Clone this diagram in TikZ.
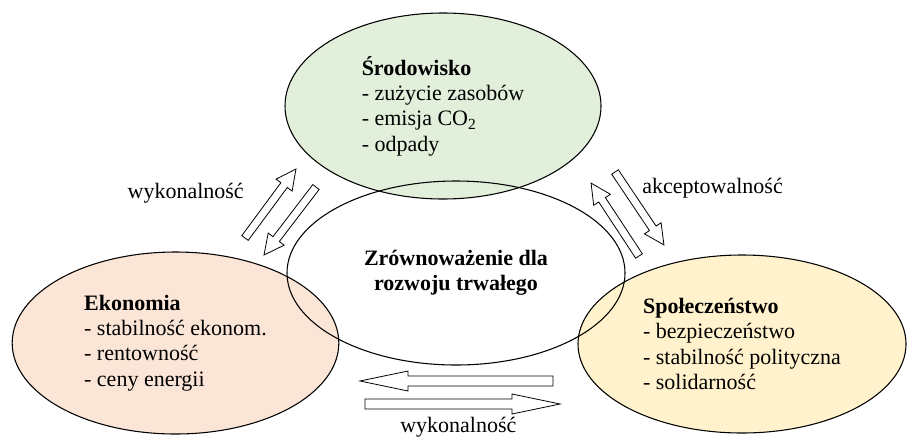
\documentclass[tikz,border=0pt]{standalone}
\usepackage{fontspec}
\setmainfont{Liberation Serif}
\usetikzlibrary{calc,shapes.geometric}

\definecolor{envgreen}{HTML}{E2EFDA}
\definecolor{ecopink}{HTML}{FBE5D6}
\definecolor{socyellow}{HTML}{FFF2CC}

% hollow block arrow: tail, tip, shaft half width, head half width, head length
\newcommand{\hollowarrow}[5]{%
  \draw[arrowline] let \p1=($(#2)-(#1)$), \n1={atan2(\y1,\x1)}, \n2={veclen(\x1,\y1)} in
    [shift={(#1)},rotate=\n1]
    (0pt,-#3) -- ({\n2-#5},-#3) -- ({\n2-#5},-#4) -- (\n2,0pt)
    -- ({\n2-#5},#4) -- ({\n2-#5},#3) -- (0pt,#3) -- cycle;}

\begin{document}
\begin{tikzpicture}[x=0.75pt,y=-0.75pt,
    every node/.style={font=\fontsize{16.5}{19}\selectfont},
    bubble/.style={ellipse,draw,line width=0.8pt,align=left,inner sep=0pt},
    arrowline/.style={line width=0.6pt,line join=miter}]
  \useasboundingbox (0,0) rectangle (909,436);
  % three pillars
  \node[bubble,fill=envgreen,minimum width=237pt,minimum height=139.5pt] (env) at (443,106)
    {\textbf{Środowisko}\\- zużycie zasobów\\- emisja CO\textsubscript{2}\\- odpady};
  \node[bubble,fill=ecopink,minimum width=245pt,minimum height=136.5pt] (eco) at (175.5,343)
    {\textbf{Ekonomia}\\- stabilność ekonom.\\- rentowność\\- ceny energii};
  \node[bubble,fill=socyellow,minimum width=246pt,minimum height=133.5pt] (soc) at (742,344)
    {\textbf{Społeczeństwo}\\- bezpieczeństwo\\- stabilność polityczna\\- solidarność};
  % centre
  \node[bubble,align=center,minimum width=253.5pt,minimum height=138pt] (core) at (456,273)
    {\textbf{Zrównoważenie dla}\\\textbf{rozwoju trwałego}};
  % arrow ends
  \coordinate (ecoup0) at (245,238);   \coordinate (ecoup1) at (296,169);
  \coordinate (ecodn0) at (316,187);   \coordinate (ecodn1) at (264,255);
  \coordinate (socup0) at (639,256);   \coordinate (socup1) at (591,183);
  \coordinate (socdn0) at (615,172);   \coordinate (socdn1) at (664,245);
  \coordinate (botl0) at (553,381);    \coordinate (botl1) at (360,381);
  \coordinate (botr0) at (365,404);    \coordinate (botr1) at (560,404);
  \hollowarrow{ecoup0}{ecoup1}{3pt}{7.5pt}{15pt}
  \hollowarrow{ecodn0}{ecodn1}{3pt}{7.5pt}{15pt}
  \hollowarrow{socup0}{socup1}{3pt}{7.5pt}{15pt}
  \hollowarrow{socdn0}{socdn1}{3pt}{7.5pt}{15pt}
  \hollowarrow{botl0}{botl1}{3.75pt}{7.5pt}{36pt}
  \hollowarrow{botr0}{botr1}{3.75pt}{7.5pt}{36pt}
  % labels
  \node[anchor=base east,inner sep=0pt] (lblecon) at (244,198) {wykonalność};
  \node[anchor=base west,inner sep=0pt] (lblbot) at (400,432) {wykonalność};
  \node[anchor=base west,inner sep=0pt] (lblsoc) at (642,193) {akceptowalność};
\end{tikzpicture}
\end{document}
